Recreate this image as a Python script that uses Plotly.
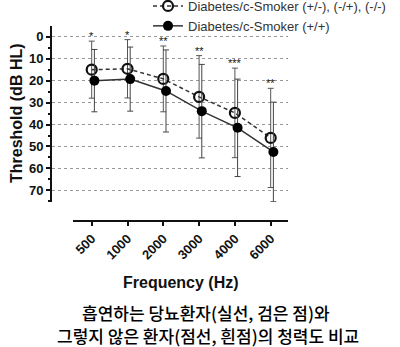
import plotly.graph_objects as go

freq_labels = ["500", "1000", "2000", "3000", "4000", "6000"]
open_mean = [15.0, 14.6, 19.2, 27.4, 34.7, 46.1]
open_sd = [13.0, 13.3, 15.0, 18.8, 20.4, 22.6]
filled_mean = [20.0, 19.3, 24.7, 33.9, 41.5, 52.5]
filled_sd = [14.2, 14.6, 18.7, 21.3, 22.2, 22.7]
stars = ["*", "*", "**", "**", "***", "**"]
name_open = "Diabetes/c-Smoker (+/-), (-/+), (-/-)"
name_filled = "Diabetes/c-Smoker (+/+)"
ytitle = "Threshold (dB HL)"
xtitle = "Frequency (Hz)"
caption1 = "흡연하는 당뇨환자(실선, 검은 점)와"
caption2 = "그렇지 않은 환자(점선, 흰점)의 청력도 비교"

W, H = 400, 347
FONT = "Liberation Sans, Arial, sans-serif"
KFONT = "Noto Sans CJK KR"

idx = list(range(len(freq_labels)))
x_open = [i for i in idx]
x_filled = [i + 0.075 for i in idx]

def px(v):
    return v / W

def py(v):
    return 1 - v / H

fig = go.Figure()
fig.add_trace(go.Scatter(x=[], y=[], xaxis="x2", yaxis="y2", showlegend=False, hoverinfo="skip"))
fig.add_trace(go.Scatter(
    x=x_open, y=open_mean, name=name_open, mode="lines+markers",
    line=dict(color="#333333", width=1.5, dash="4px,3px"),
    marker=dict(symbol="circle-open", size=10, color="#111111", line=dict(width=2.2, color="#111111")),
    error_y=dict(type="data", array=open_sd, visible=True, color="#555555", thickness=1, width=3),
))
fig.add_trace(go.Scatter(
    x=x_filled, y=filled_mean, name=name_filled, mode="lines+markers",
    line=dict(color="#333333", width=1.5),
    marker=dict(symbol="circle", size=10, color="#000000"),
    error_y=dict(type="data", array=filled_sd, visible=True, color="#444444", thickness=1, width=3),
))

for i, s in enumerate(stars):
    fig.add_annotation(x=x_open[i], y=open_mean[i] - open_sd[i], text=s, showarrow=False,
                       xref="x", yref="y", xanchor="center", yanchor="bottom", yshift=-3,
                       font=dict(family=FONT, size=11, color="#111111"))

# axis titles and caption
fig.add_annotation(x=px(17), y=py(113), xref="paper", yref="paper", text="<b>%s</b>" % ytitle,
                   xanchor="center", yanchor="middle",
                   textangle=-90, showarrow=False, font=dict(family=FONT, size=16, color="#111111"))
fig.add_annotation(x=px(181), y=py(282), xref="paper", yref="paper", text="<b>%s</b>" % xtitle,
                   xanchor="center", yanchor="middle",
                   showarrow=False, font=dict(family=FONT, size=16, color="#111111"))
fig.add_annotation(x=px(206), y=py(312), xref="paper", yref="paper", text=caption1,
                   xanchor="center", yanchor="middle", borderpad=0,
                   showarrow=False, font=dict(family=KFONT, size=17, color="#000000", weight=500))
fig.add_annotation(x=px(208), y=py(335), xref="paper", yref="paper", text=caption2,
                   xanchor="center", yanchor="middle", borderpad=0,
                   showarrow=False, font=dict(family=KFONT, size=17, color="#000000", weight=500))

tick0 = 91.7
step = 35.8
fig.update_layout(
    width=W, height=H, margin=dict(l=0, r=0, t=0, b=0, autoexpand=False),
    paper_bgcolor="white", plot_bgcolor="rgba(0,0,0,0)",
    showlegend=True,
    legend=dict(x=px(148), y=py(-9), xanchor="left", yanchor="top", bgcolor="rgba(0,0,0,0)",
                font=dict(family=FONT, size=13, color="#333333"), tracegroupgap=0,
                itemwidth=30),
    xaxis=dict(domain=[px(52), px(288)], range=[(52 - tick0) / step, (288 - tick0) / step],
               visible=False, anchor="y", fixedrange=True),
    xaxis2=dict(domain=[px(73), px(288)], range=[(73 - tick0) / step, (288 - tick0) / step],
                anchor="free", position=py(221), showline=True, linecolor="#111111", linewidth=2,
                ticks="outside", ticklen=4, tickwidth=2, tickcolor="#111111",
                tickvals=idx, ticktext=["<b>%s</b>" % t for t in freq_labels], tickangle=-45,
                tickfont=dict(family=FONT, size=13, color="#111111"), showgrid=False, zeroline=False,
                automargin=False),
    yaxis=dict(domain=[py(202), py(26)], range=[75.3, -4.9], anchor="x",
               showline=True, linecolor="#111111", linewidth=2,
               ticks="outside", ticklen=4, tickwidth=2, tickcolor="#111111",
               tickvals=[0, 10, 20, 30, 40, 50, 60, 70],
               ticktext=["<b>%d</b>" % v for v in [0, 10, 20, 30, 40, 50, 60, 70]],
               tickfont=dict(family=FONT, size=13, color="#111111"),
               minor=dict(tickvals=[5, 15, 25, 35, 45, 55, 65, 75], ticks="outside", ticklen=2,
                          tickwidth=2, tickcolor="#111111", showgrid=False),
               showgrid=True, gridcolor="#999999", gridwidth=1, griddash="dot",
               zeroline=False, automargin=False),
    yaxis2=dict(domain=[py(202), py(26)], anchor="x2", visible=False, showgrid=False),
)

fig.write_html("out.html")
